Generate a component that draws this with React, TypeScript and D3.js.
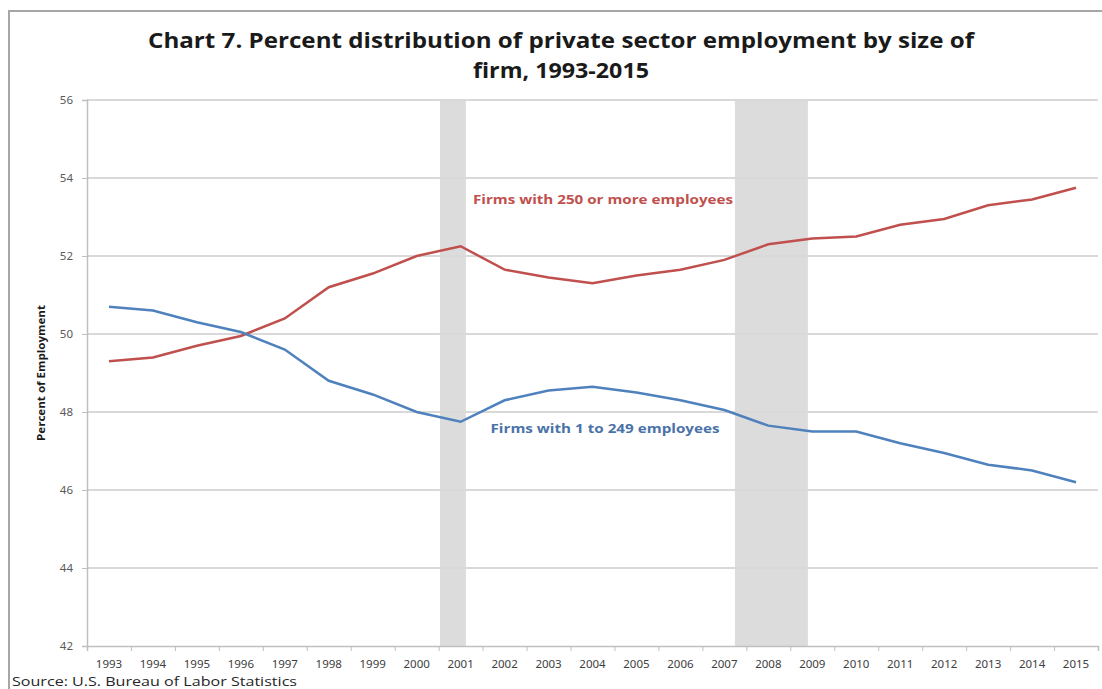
import React, { useRef, useEffect } from 'react';
import * as d3 from 'd3';

const years = [
  1993, 1994, 1995, 1996, 1997, 1998, 1999, 2000, 2001, 2002, 2003, 2004,
  2005, 2006, 2007, 2008, 2009, 2010, 2011, 2012, 2013, 2014, 2015,
];

// Firms with 250 or more employees
const largeFirms = [
  49.3, 49.4, 49.7, 49.95, 50.4, 51.2, 51.55, 52.0, 52.25, 51.65, 51.45, 51.3,
  51.5, 51.65, 51.9, 52.3, 52.45, 52.5, 52.8, 52.95, 53.3, 53.45, 53.75,
];

// Firms with 1 to 249 employees
const smallFirms = [
  50.7, 50.6, 50.3, 50.05, 49.6, 48.8, 48.45, 48.0, 47.75, 48.3, 48.55, 48.65,
  48.5, 48.3, 48.05, 47.65, 47.5, 47.5, 47.2, 46.95, 46.65, 46.5, 46.2,
];

const yTicks = [42, 44, 46, 48, 50, 52, 54, 56];

// shaded recession periods, in fractional category units
const recessions: [number, number][] = [
  [2001.03, 2001.62],
  [2007.74, 2009.4],
];

const titleLines = [
  'Chart 7. Percent distribution of private sector employment by size of',
  'firm, 1993-2015',
];

const RED = '#c0504d';
const BLUE = '#4f81bd';
const GRID = '#d9d9d9';

export default function App() {
  const axisRef = useRef<SVGGElement>(null);

  const margin = { left: 87, right: 1098, top: 100, bottom: 646 };

  const x = d3
    .scaleLinear()
    .domain([years[0], years[years.length - 1] + 1])
    .range([margin.left, margin.right]);
  const y = d3.scaleLinear().domain([42, 56]).range([margin.bottom, margin.top]);

  const line = d3
    .line<number>()
    .x((_, i) => x(years[i] + 0.5))
    .y(d => y(d));

  useEffect(() => {
    if (!axisRef.current) return;
    const g = d3.select(axisRef.current);
    g.selectAll('*').remove();
    // x axis with ticks between categories
    const xAxis = d3
      .axisBottom(x)
      .tickValues(d3.range(years[0], years[years.length - 1] + 2))
      .tickSize(5)
      .tickFormat(() => '');
    g.append('g')
      .attr('transform', `translate(0, ${margin.bottom})`)
      .call(xAxis)
      .call(s => s.select('.domain').attr('stroke', '#bfbfbf').attr('stroke-width', 1.5))
      .call(s => s.selectAll('.tick line').attr('stroke', '#bfbfbf'));

    g.append('g')
      .selectAll('text')
      .data(years)
      .enter()
      .append('text')
      .attr('x', d => x(d + 0.5))
      .attr('y', margin.bottom + 22)
      .attr('text-anchor', 'middle')
      .attr('font-family', 'Noto Sans, sans-serif')
      .attr('font-size', 11.5)
      .attr('fill', '#404040')
      .text(d => String(d));

    const yAxis = d3.axisLeft(y).tickValues(yTicks).tickSize(5).tickPadding(9);
    g.append('g')
      .attr('transform', `translate(${margin.left}, 0)`)
      .call(yAxis)
      .call(s => s.select('.domain').attr('stroke', '#bfbfbf').attr('stroke-width', 1.5))
      .call(s => s.selectAll('.tick line').attr('stroke', '#bfbfbf'))
      .call(s =>
        s
          .selectAll('.tick text')
          .attr('font-family', 'Noto Sans, sans-serif')
          .attr('font-size', 11.5)
          .attr('fill', '#595959')
      );
  }, []);

  return (
    <svg
      width={1102}
      height={689}
      style={{ position: 'absolute', left: 0, top: 0, background: '#fff' }}
    >
      <rect x={9} y={11} width={1120} height={700} fill="#fff" stroke="#a6a6a6" strokeWidth={2} />

      {titleLines.map((t, i) => (
        <text
          key={i}
          x={561}
          y={48 + i * 30}
          textAnchor="middle"
          fontFamily="Open Sans, sans-serif"
          fontWeight="bold"
          fontSize={21}
          fill="#1a1a1a"
          textLength={i === 0 ? 826 : 176}
          lengthAdjust="spacingAndGlyphs"
        >
          {t}
        </text>
      ))}

      {recessions.map(([a, b], i) => (
        <rect
          key={i}
          x={x(a)}
          y={margin.top}
          width={x(b) - x(a)}
          height={margin.bottom - margin.top}
          fill="#dcdcdc"
        />
      ))}

      {yTicks.slice(1).map(t => (
        <line
          key={t}
          x1={margin.left}
          x2={margin.right}
          y1={y(t)}
          y2={y(t)}
          stroke={GRID}
          strokeWidth={2}
        />
      ))}

      <g ref={axisRef} />

      <path d={line(largeFirms) ?? ''} fill="none" stroke={RED} strokeWidth={2.5} />
      <path d={line(smallFirms) ?? ''} fill="none" stroke={BLUE} strokeWidth={2.5} />

      <text
        x={603}
        y={204}
        textAnchor="middle"
        fontFamily="Open Sans, sans-serif"
        fontWeight="bold"
        fontSize={13}
        fill={RED}
        textLength={260}
        lengthAdjust="spacingAndGlyphs"
      >
        Firms with 250 or more employees
      </text>
      <text
        x={605}
        y={433}
        textAnchor="middle"
        fontFamily="Open Sans, sans-serif"
        fontWeight="bold"
        fontSize={13}
        fill="#4a72a8"
        textLength={229}
        lengthAdjust="spacingAndGlyphs"
      >
        Firms with 1 to 249 employees
      </text>

      <text
        transform="translate(45, 373) rotate(-90)"
        textAnchor="middle"
        fontFamily="Liberation Sans Narrow, Open Sans, sans-serif"
        fontWeight="bold"
        fontSize={11}
        fill="#1a1a1a"
        textLength={136}
        lengthAdjust="spacingAndGlyphs"
      >
        Percent of Employment
      </text>

      <text
        x={12}
        y={686}
        fontFamily="Open Sans, sans-serif"
        fontSize={13}
        fill="#262626"
        textLength={285}
        lengthAdjust="spacingAndGlyphs"
      >
        Source: U.S. Bureau of Labor Statistics
      </text>
    </svg>
  );
}
